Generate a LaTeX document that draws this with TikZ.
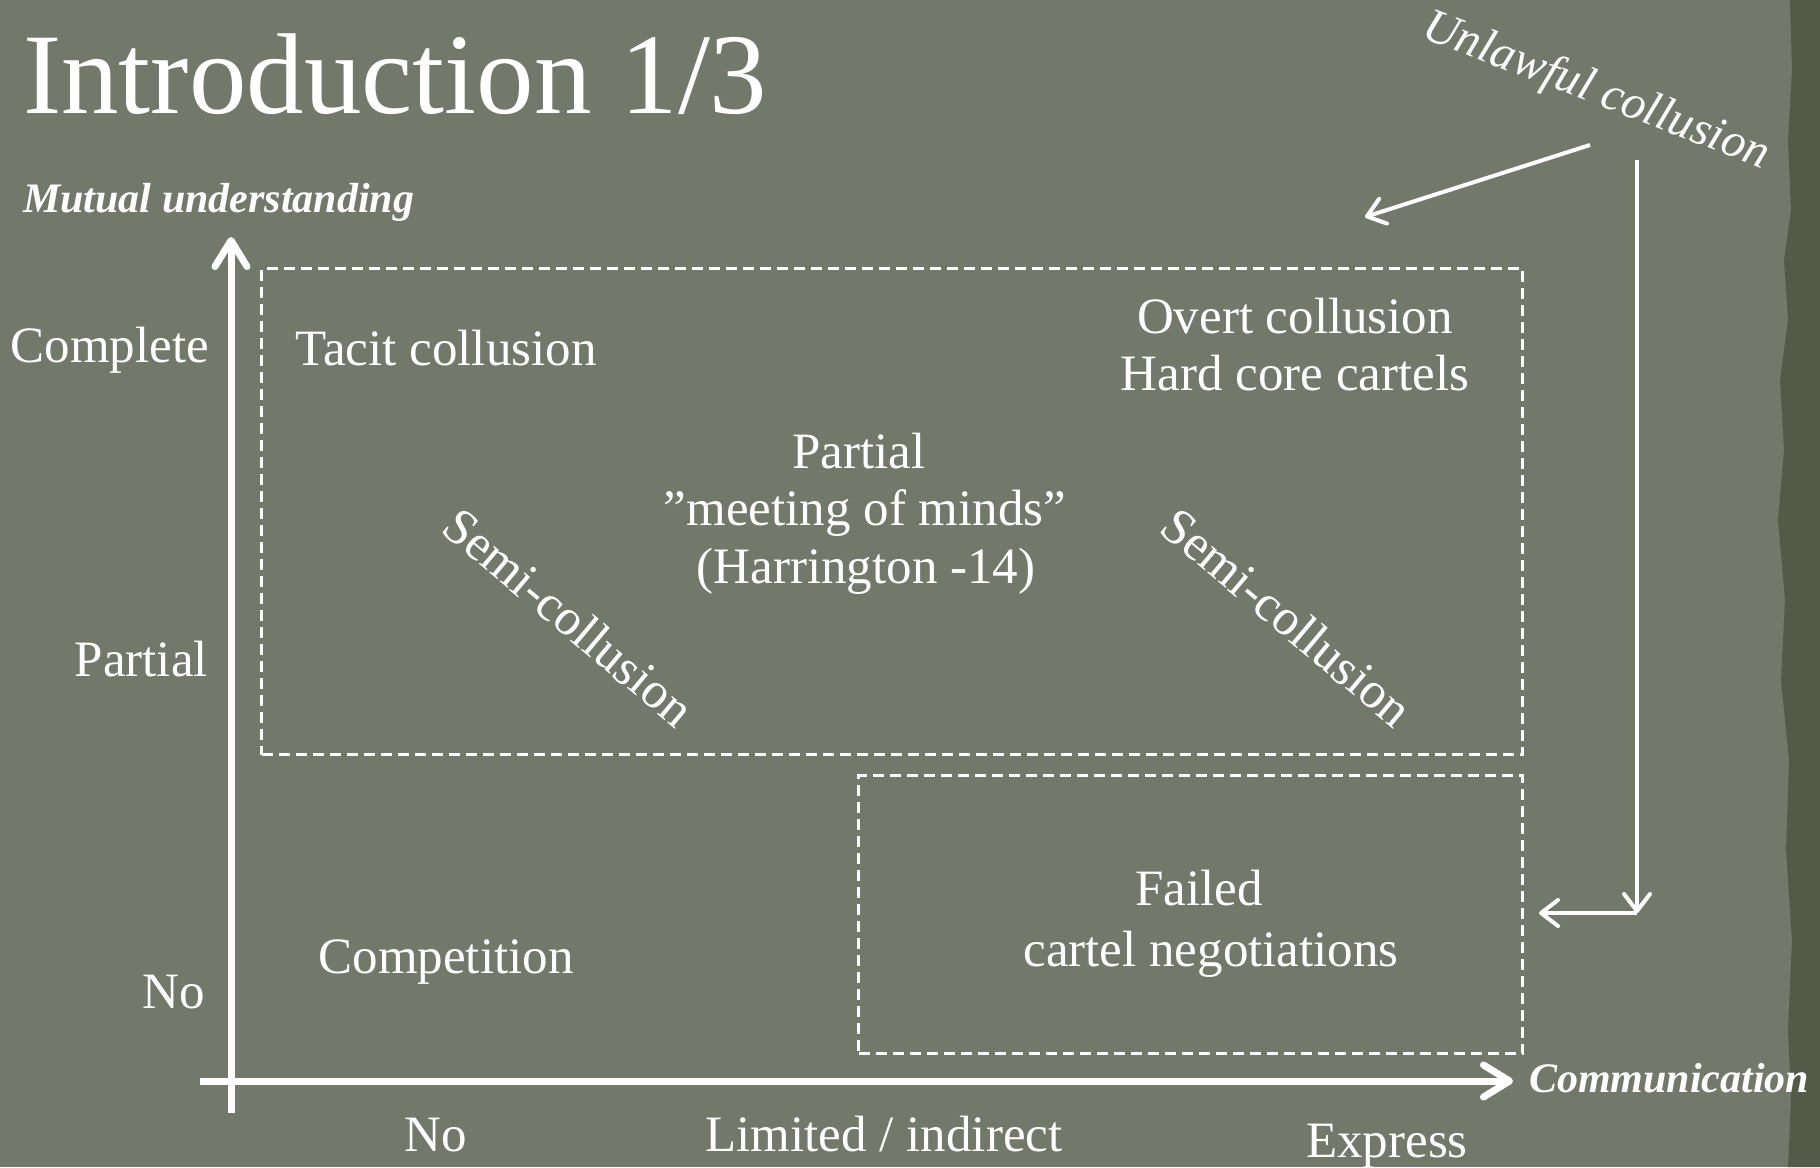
\documentclass[tikz,border=0pt]{standalone}
\usepackage{fontspec}
\setmainfont{Liberation Serif}
\usetikzlibrary{arrows.meta}
\definecolor{bg}{RGB}{114,120,106}
\definecolor{edgebg}{RGB}{84,90,72}
\begin{document}
\begin{tikzpicture}[x=1pt,y=-1pt,
  txt/.style={text=white,inner sep=0pt,font=\fontsize{51}{60}\selectfont},
  axislabel/.style={text=white,inner sep=0pt,font=\fontsize{42}{50}\selectfont\bfseries\itshape},
  axis/.style={white,line width=7pt,-{Straight Barb[round,length=26pt,width=32pt]}},
  thinarrow/.style={white,line width=4pt,-{Straight Barb[round,length=17pt,width=26pt]}},
  dbox/.style={draw=white,line width=3pt,dash pattern=on 11pt off 6pt,inner sep=0pt,anchor=north west}]
\useasboundingbox (0,0) rectangle (1820,1167);
\fill[bg] (0,0) rectangle (1820,1167);
\fill[edgebg] (1790,0) -- (1792,70) -- (1788,140) -- (1791,210) -- (1784,260) -- (1788,320)
  -- (1780,380) -- (1784,450) -- (1778,520) -- (1785,600) -- (1781,680) -- (1789,760)
  -- (1786,850) -- (1792,940) -- (1788,1030) -- (1791,1100) -- (1788,1167)
  -- (1820,1167) -- (1820,0) -- cycle;

% title
\node[txt,font=\fontsize{115}{130}\selectfont,anchor=base west] (title) at (23,113) {Introduction 1/3};

% axes
\coordinate (xstart) at (200,1081);
\coordinate (xend) at (1513,1081);
\coordinate (ystart) at (231,1113);
\coordinate (yend) at (231,237);
\draw[axis] (xstart) -- (xend);
\draw[axis] (ystart) -- (yend);
\node[axislabel,anchor=base west] (mutual) at (23,212) {Mutual understanding};
\node[axislabel,anchor=base west] (comm) at (1529,1092) {Communication};

% y labels
\node[txt,anchor=base east] (ycomplete) at (209,362) {Complete};
\node[txt,anchor=base east] (ypartial) at (208,676) {Partial};
\node[txt,anchor=base east] (yno) at (205,1008) {No};
% x labels
\node[txt,anchor=base] (xno) at (436,1151) {No};
\node[txt,anchor=base] (xlimited) at (884,1151) {Limited / indirect};
\node[txt,anchor=base] (xexpress) at (1387,1157) {Express};

% boxes
\node[dbox,minimum width=1261pt,minimum height=486pt] (upper) at (260,267) {};
\node[dbox,minimum width=664pt,minimum height=278pt] (lower) at (857,774) {};

% box texts
\node[txt,anchor=base] (tacit) at (446,365) {Tacit collusion};
\node[txt,anchor=base] (overt) at (1295,333) {Overt collusion};
\node[txt,anchor=base] (hardcore) at (1295,390) {Hard core cartels};
\node[txt,anchor=base] (partial) at (859,468) {Partial};
\node[txt,anchor=base] (meeting) at (865,525) {”meeting of minds”};
\node[txt,anchor=base] (harrington) at (866,583) {(Harrington -14)};
\node[txt,rotate=-40] (semileft) at (569,617) {Semi-collusion};
\node[txt,rotate=-40] (semiright) at (1287,617) {Semi-collusion};
\node[txt,anchor=base] (competition) at (446,973) {Competition};
\node[txt,anchor=base] (failed) at (1199,905) {Failed};
\node[txt,anchor=base] (cartelneg) at (1211,966) {cartel negotiations};

% unlawful collusion
\node[txt,font=\fontsize{48}{57}\selectfont\itshape,rotate=-21] (unlawful) at (1596,92) {Unlawful collusion};
\coordinate (a1s) at (1590,145);
\coordinate (a1e) at (1365,217);
\coordinate (a2s) at (1637,160);
\coordinate (corner) at (1637,913);
\coordinate (a3e) at (1539,913);
\draw[thinarrow] (a1s) -- (a1e);
\draw[thinarrow] (a2s) -- (corner);
\draw[thinarrow] (corner) -- (a3e);
\end{tikzpicture}
\end{document}
